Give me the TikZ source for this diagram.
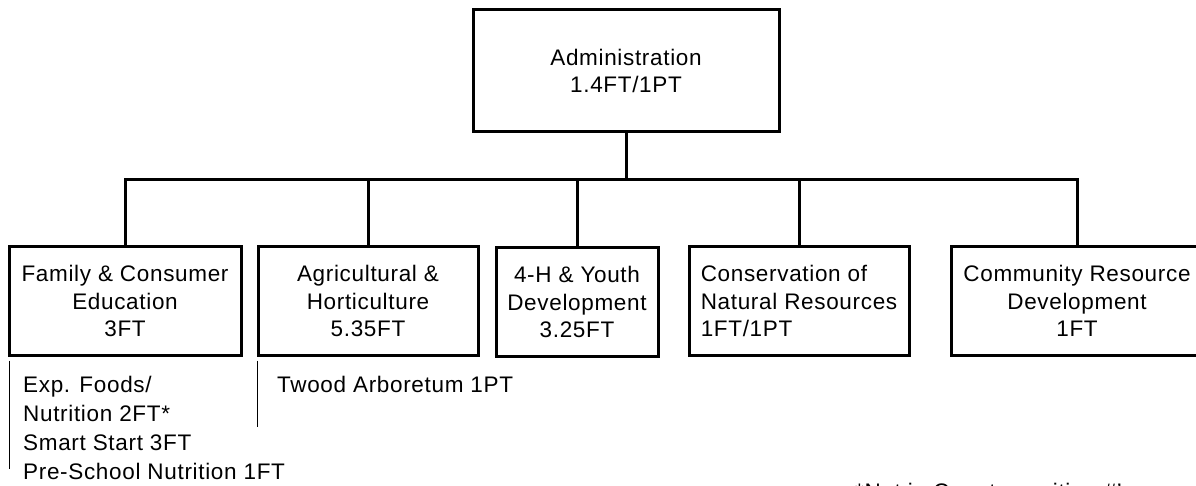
\documentclass[tikz,border=0pt]{standalone}
\usepackage{fontspec}
\setmainfont{Liberation Sans}[LetterSpace=3.0]
\usetikzlibrary{calc}
\tikzset{
  unit/.style={box/.style={}},
  orgbox/.style={draw=black, line width=3pt, inner sep=0pt, align=center,
    font=\fontsize{22.5}{27.5}\selectfont},
  conn/.style={draw=black, line width=3pt},
  subline/.style={draw=black, line width=1.3pt},
  subtext/.style={inner sep=0pt, anchor=north west, align=left,
    font=\fontsize{22.5}{29}\selectfont}
}
\begin{document}
\begin{tikzpicture}[x=1pt,y=-1pt]
\clip (0,0) rectangle (1196,486);
\fill[white] (0,0) rectangle (1196,486);
% boxes
\node[orgbox, minimum width=306, minimum height=122] (admin) at (626,71) {Administration\\1.4FT/1PT};
\node[orgbox, minimum width=232, minimum height=108] (b1) at (125,301) {Family \& Consumer\\Education\\3FT};
\node[orgbox, minimum width=220, minimum height=108] (b2) at (368,301) {Agricultural \&\\Horticulture\\5.35FT};
\node[orgbox, minimum width=162, minimum height=108] (b3) at (577,302) {4-H \& Youth\\Development\\3.25FT};
\node[orgbox, minimum width=220, minimum height=108, align=left] (b4) at (799,301) {Conservation of\\Natural Resources\\1FT/1PT};
\node[orgbox, minimum width=252, minimum height=108] (b5) at (1077,301) {Community Resource\\Development\\1FT};
% bus
\coordinate (bus) at (0,180);
\draw[conn] (admin.south) -- (admin.south |- bus);
\draw[conn, line cap=rect] (b1.north |- bus) -- (b5.north |- bus);
\foreach \b in {b1,b2,b3,b4,b5}{
  \draw[conn] (\b.north |- bus) -- (\b.north);
}
% sub units
\coordinate (s1top) at ($(b1.south west)+(2,4)$);
\coordinate (s1bot) at ($(b1.south west)+(2,112)$);
\coordinate (s2top) at ($(b2.south west)+(1,4)$);
\coordinate (s2bot) at ($(b2.south west)+(1,70)$);
\draw[subline] (s1top) -- (s1bot);
\draw[subline] (s2top) -- (s2bot);
\node[subtext] (fcsub) at (23,376) {Exp. Foods/\\Nutrition 2FT*\\Smart Start 3FT\\Pre-School Nutrition 1FT};
\node[subtext] (agsub) at (277,376) {Twood Arboretum 1PT};
% footnote (cut by the picture's lower edge)
\node[inner sep=0pt, anchor=base west, font=\fontsize{22.5}{27.5}\selectfont] (note) at (855,499) {*Not in County position \#'s};
\end{tikzpicture}
\end{document}
